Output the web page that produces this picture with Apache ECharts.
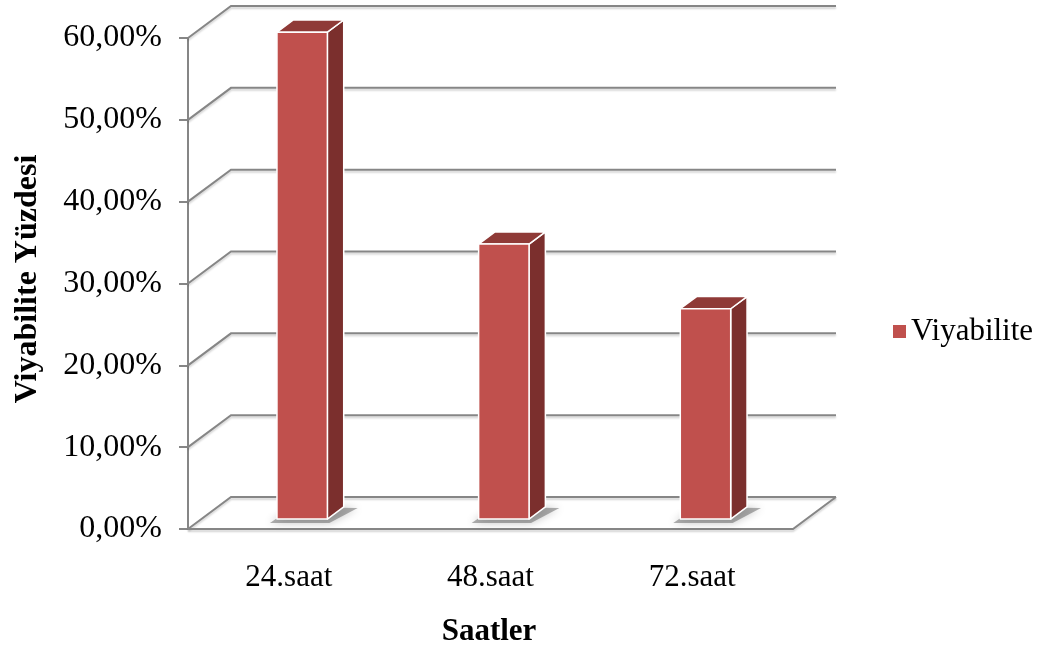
<!DOCTYPE html>
<html>
<head>
<meta charset="utf-8">
<script src="https://cdn.jsdelivr.net/npm/echarts@6/dist/echarts.min.js"></script>
<style>
  html, body { margin: 0; padding: 0; background: #fff; }
  #chart { width: 1044px; height: 653px; }
</style>
</head>
<body>
<div id="chart"></div>
<script>
// Viability per time point
const categories = ['24.saat', '48.saat', '72.saat'];
const viabilityValues = [0.595, 0.336, 0.257];
const seriesName = 'Viyabilite';
const yTicks = [0, 0.1, 0.2, 0.3, 0.4, 0.5, 0.6];

// Pseudo-3D projection of the floor/back wall depth
const DEPTH_DX = 43;
const DEPTH_DY = -32;
const BAR_FRONT = 0.31;   // bar front face position within the depth
const BAR_BACK = 0.69;    // bar back face position within the depth
const BAR_WIDTH = 0.25;   // fraction of a category band

const LINE_COLOR = '#868686';
const FONT = '"Liberation Serif", "Times New Roman", serif';

function pct(v) {
  return (v * 100).toFixed(2).replace('.', ',') + '%';
}

const chart = echarts.init(document.getElementById('chart'));

function renderWalls(params, api) {
  const cs = params.coordSys;
  const left = cs.x, right = cs.x + cs.width;
  const children = [];
  const lineStyle = {
    stroke: LINE_COLOR, lineWidth: 2,
    shadowColor: 'rgba(0,0,0,0.18)', shadowBlur: 2, shadowOffsetY: 2
  };
  yTicks.forEach(function (v) {
    const y = api.coord([0, v])[1];
    // diagonal from the front axis to the back wall, then back wall line
    children.push({
      type: 'polyline',
      shape: { points: [[left, y], [left + DEPTH_DX, y + DEPTH_DY], [right + DEPTH_DX, y + DEPTH_DY]] },
      style: Object.assign({ fill: null }, lineStyle)
    });
  });
  // front edge and right edge of the floor
  const y0 = api.coord([0, 0])[1];
  children.push({
    type: 'polyline',
    shape: { points: [[left, y0], [right, y0], [right + DEPTH_DX, y0 + DEPTH_DY]] },
    style: Object.assign({ fill: null }, lineStyle)
  });
  return { type: 'group', children: children };
}

function renderBar(params, api) {
  const idx = api.value(0);
  const val = api.value(1);
  const base = api.coord([idx, 0]);
  const top = api.coord([idx, val]);
  const band = api.size([1, 0])[0];
  const w = band * BAR_WIDTH;
  const ddx = (BAR_BACK - BAR_FRONT) * DEPTH_DX;
  const ddy = (BAR_BACK - BAR_FRONT) * DEPTH_DY;
  const fx = base[0] + BAR_FRONT * DEPTH_DX - w / 2;
  const by = base[1] + BAR_FRONT * DEPTH_DY;
  const ty = top[1] + BAR_FRONT * DEPTH_DY;
  const edge = { stroke: '#ffffff', lineWidth: 1.5, lineJoin: 'round' };
  return {
    type: 'group',
    children: [
      {
        type: 'polygon',
        shape: { points: [[fx - 7, by + 4], [fx + w + 2, by + 4], [fx + w + ddx + 14, by + ddy + 1], [fx + ddx, by + ddy]] },
        style: { fill: 'rgba(80,80,80,0.45)', shadowColor: 'rgba(0,0,0,0.5)', shadowBlur: 8 }
      },
      {
        type: 'polygon',
        shape: { points: [[fx + w, ty], [fx + w + ddx, ty + ddy], [fx + w + ddx, by + ddy], [fx + w, by]] },
        style: Object.assign({ fill: '#7B2F2D' }, edge)
      },
      {
        type: 'polygon',
        shape: { points: [[fx, ty], [fx + ddx, ty + ddy], [fx + w + ddx, ty + ddy], [fx + w, ty]] },
        style: Object.assign({ fill: '#8F3A37' }, edge)
      },
      {
        type: 'rect',
        shape: { x: fx, y: ty, width: w, height: by - ty },
        style: Object.assign({ fill: '#C0504D' }, edge)
      }
    ]
  };
}

chart.setOption({
  animation: false,
  color: ['#C0504D'],
  grid: { left: 188, right: 251, top: 38, bottom: 124 },
  legend: {
    data: [seriesName],
    left: 888, top: 311,
    icon: 'rect', itemWidth: 13, itemHeight: 13, itemGap: 10,
    textStyle: { fontFamily: FONT, fontSize: 31, color: '#000' }
  },
  xAxis: {
    type: 'category',
    data: categories,
    axisLine: { show: false },
    axisTick: { show: false },
    axisLabel: { margin: 33, fontFamily: FONT, fontSize: 31, color: '#000' }
  },
  yAxis: {
    type: 'value',
    min: 0, max: 0.6, interval: 0.1,
    axisLine: { show: true, lineStyle: { color: LINE_COLOR, width: 2 } },
    axisTick: { show: true, length: 9, lineStyle: { color: LINE_COLOR, width: 2 } },
    splitLine: { show: false },
    axisLabel: { margin: 26, fontFamily: FONT, fontSize: 32, color: '#000', formatter: pct }
  },
  graphic: [
    {
      type: 'text', x: 28, y: 279, rotation: Math.PI / 2,
      style: { text: 'Viyabilite Yüzdesi', font: 'bold 32px ' + FONT, fill: '#000', textAlign: 'center', textVerticalAlign: 'middle' }
    },
    {
      type: 'text', x: 489, y: 632,
      style: { text: 'Saatler', font: 'bold 31px ' + FONT, fill: '#000', textAlign: 'center', textVerticalAlign: 'middle' }
    }
  ],
  series: [
    {
      name: 'walls',
      type: 'custom',
      silent: true,
      z: 1,
      renderItem: renderWalls,
      data: [[0, 0]]
    },
    {
      name: seriesName,
      type: 'custom',
      z: 2,
      renderItem: renderBar,
      encode: { x: 0, y: 1 },
      data: categories.map(function (c, i) { return [i, viabilityValues[i]]; })
    }
  ]
});
</script>
</body>
</html>
